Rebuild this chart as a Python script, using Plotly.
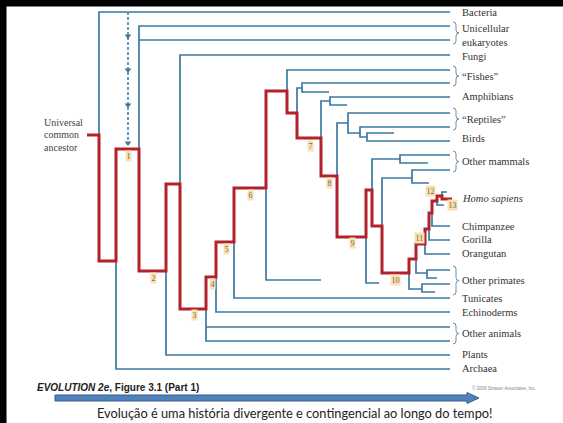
import plotly.graph_objects as go

W, H = 563, 423
FRAME = 6  # black slide frame thickness (top and left)

# ---------------- data ----------------
# leaf taxa and the row (vertical position) at which each is listed
taxa_labels = ["Bacteria", "Unicellular<br>eukaryotes", "Fungi", "\u201cFishes\u201d", "Amphibians",
               "\u201cReptiles\u201d", "Birds", "Other mammals", "<i>Homo sapiens</i>", "Chimpanzee",
               "Gorilla", "Orangutan", "Other primates", "Tunicates", "Echinoderms",
               "Other animals", "Plants", "Archaea"]
taxa_rows = [12, 35, 56, 76, 96, 119, 138, 161, 198, 226, 239, 253, 280, 298, 312, 333, 354, 368]

# grouped taxa (braces): first row, last row
brace_top = [22, 66, 108, 151, 266, 323]
brace_bottom = [44, 86, 130, 172, 295, 344]

# lineage leading to Homo sapiens (red), as node (x = time, y = row) sequence
red_x = [87, 99, 99, 116, 116, 139, 139, 166, 166, 180, 180, 206, 206, 216, 216, 234, 234, 266, 266,
         287, 287, 297, 297, 321, 321, 337, 337, 366, 366, 372, 372, 382, 382, 409, 409, 416, 416,
         425, 425, 429, 429, 432, 432, 437, 437, 442, 442, 452]
red_y = [135, 135, 261, 261, 149, 149, 271, 271, 184, 184, 309, 309, 277, 277, 242, 242, 188, 188, 91,
         91, 113, 113, 138, 138, 176, 176, 237, 237, 190, 190, 226, 226, 273, 273, 259, 259, 244,
         244, 229, 229, 213, 213, 201, 201, 196, 196, 199, 199]

# side branches (blue): each is a list of (time, row) points
branches = [
    [(99, 135), (99, 12), (450, 12)],                       # Bacteria
    [(139, 149), (139, 26), (450, 26)],                     # unicellular eukaryotes
    [(139, 40), (450, 40)],
    [(180, 184), (180, 55), (450, 55)],                     # Fungi
    [(287, 91), (287, 70), (450, 70)],                      # fishes
    [(297, 113), (297, 88), (302, 88)],
    [(450, 83), (302, 83), (302, 92), (329, 92)],
    [(321, 138), (321, 101), (330, 101)],                   # amphibians
    [(450, 97), (330, 97), (330, 105), (347, 105)],
    [(337, 176), (337, 123), (348, 123)],                   # reptiles / birds
    [(450, 113), (348, 113), (348, 133), (360, 133)],
    [(450, 127), (360, 127), (360, 137), (367, 137)],
    [(394, 133), (367, 133), (367, 141), (450, 141)],
    [(372, 190), (372, 159), (400, 159)],                   # other mammals
    [(450, 155), (400, 155), (400, 163), (428, 163)],
    [(382, 226), (382, 178), (412, 178)],
    [(450, 170), (412, 170), (412, 183), (429, 183)],
    [(266, 188), (266, 280), (321, 280)],                   # unlabelled chordate
    [(366, 237), (366, 283), (379, 283)],                   # unlabelled mammal
    [(409, 273), (409, 289), (422, 289)],                   # other primates
    [(450, 284), (422, 284), (422, 292), (435, 292)],
    [(416, 259), (416, 273), (427, 273)],
    [(450, 270), (427, 270), (427, 278), (437, 278)],
    [(425, 244), (425, 254), (450, 254)],                   # Orangutan
    [(429, 229), (429, 240), (450, 240)],                   # Gorilla
    [(432, 213), (432, 226), (450, 226)],                   # Chimpanzee
    [(437, 201), (437, 205), (444, 205)],                   # node 13 sister
    [(442, 196), (442, 192), (447, 192)],
    [(234, 242), (234, 298), (450, 298)],                   # Tunicates
    [(216, 277), (216, 312), (450, 312)],                   # Echinoderms
    [(206, 309), (206, 341), (450, 341)],                   # other animals
    [(206, 327), (450, 327)],
    [(166, 271), (166, 355), (450, 355)],                   # Plants
    [(116, 261), (116, 369), (450, 369)],                   # Archaea
]

# numbered nodes on the human lineage
node_numbers = ["1", "2", "3", "4", "5", "6", "7", "8", "9", "10", "11", "12", "13"]
node_x = [128, 153, 194, 212, 226, 250, 310, 329, 352, 395, 419, 430, 452]
node_y = [156, 278, 315, 284, 249, 195, 146, 183, 243, 280, 238, 191, 205]

# lateral gene transfer (dashed arrow) markers
lgt_x = 128
lgt_rows = [36, 70, 105, 143]

BLUE = "#3b78a3"
RED = "#b3222b"
SERIF = "Liberation Serif"

fig = go.Figure()

# black slide frame along the top and left edges (filled polygon)
fig.add_trace(go.Scatter(x=[0, W, W, FRAME, FRAME, 0, 0], y=[0, 0, FRAME, FRAME, H, H, 0],
                         mode="lines", fill="toself", fillcolor="black",
                         line=dict(color="black", width=1), hoverinfo="skip", showlegend=False))

bx, by = [], []
for b in branches:
    for (x, y) in b:
        bx.append(x)
        by.append(y)
    bx.append(None)
    by.append(None)
fig.add_trace(go.Scatter(x=bx, y=by, mode="lines", line=dict(color=BLUE, width=1.7),
                         hoverinfo="skip", showlegend=False))

# dashed transfer arrow
fig.add_trace(go.Scatter(x=[lgt_x, lgt_x], y=[12, 146], mode="lines",
                         line=dict(color=BLUE, width=1.5, dash="3px,2px"),
                         hoverinfo="skip", showlegend=False))
fig.add_trace(go.Scatter(x=[lgt_x] * len(lgt_rows), y=lgt_rows, mode="markers",
                         marker=dict(symbol="triangle-down", size=6, color=BLUE),
                         hoverinfo="skip", showlegend=False))

fig.add_trace(go.Scatter(x=red_x, y=red_y, mode="lines", line=dict(color=RED, width=3),
                         hoverinfo="skip", showlegend=False))

annotations = []
for t, r in zip(taxa_labels, taxa_rows):
    annotations.append(dict(x=460, y=r, text=t, showarrow=False, xanchor="left", yanchor="middle",
                            align="left", font=dict(family=SERIF, size=10.5, color="#333333")))

for n, x, y in zip(node_numbers, node_x, node_y):
    annotations.append(dict(x=x, y=y, text=n, showarrow=False, xanchor="center", yanchor="middle",
                            bgcolor="#f8e2b3", borderpad=0.5,
                            font=dict(family=SERIF, size=8, color="#7a6540")))

for i, line in enumerate(["Universal", "common", "ancestor"]):
    annotations.append(dict(x=42, y=122 + i * 12.5, text=line, showarrow=False, xanchor="left",
                            yanchor="middle", font=dict(family=SERIF, size=10, color="#444444")))

annotations.append(dict(x=35, y=387, text="<b><i>EVOLUTION 2e</i>, Figure 3.1 (Part 1)</b>",
                        showarrow=False, xanchor="left", yanchor="middle",
                        font=dict(family="Liberation Sans", size=10, color="#222222")))
annotations.append(dict(x=470, y=388, text="\u00a9 2009 Sinauer Associates, Inc.", showarrow=False,
                        xanchor="left", yanchor="middle",
                        font=dict(family="Liberation Sans", size=4.5, color="#888888")))
annotations.append(dict(x=295, y=413,
                        text="Evolu\u00e7\u00e3o \u00e9 uma hist\u00f3ria divergente e contingencial ao longo do tempo!",
                        showarrow=False, xanchor="center", yanchor="middle",
                        font=dict(family="Lato", size=12.8, color="#222222")))

shapes = []
# braces
for y0, y1 in zip(brace_top, brace_bottom):
    x0, w = 453, 6
    xm, xt, ym, d = x0 + w / 2, x0 + w, (y0 + y1) / 2, 3
    p = (f"M{x0},{y0} Q{xm},{y0} {xm},{y0 + d} L{xm},{ym - d} Q{xm},{ym} {xt},{ym} "
         f"Q{xm},{ym} {xm},{ym + d} L{xm},{y1 - d} Q{xm},{y1} {x0},{y1}")
    shapes.append(dict(type="path", path=p, line=dict(color="#6f8ea6", width=1), layer="above"))

# time arrow
shapes.append(dict(type="path",
                   path="M55,395 L467,395 L467,392.5 L479,398 L467,403.5 L467,401 L55,401 Z",
                   fillcolor="#4f81bd", line=dict(color="#385d8a", width=1), layer="above"))

fig.update_layout(
    width=W, height=H, margin=dict(l=0, r=0, t=0, b=0, pad=0),
    paper_bgcolor="white", plot_bgcolor="white",
    xaxis=dict(range=[0, W], visible=False, fixedrange=True),
    yaxis=dict(range=[H, 0], visible=False, fixedrange=True),
    annotations=annotations, shapes=shapes,
)

fig.write_html("out.html", config={"displayModeBar": False},
               post_script="document.body.style.margin='0';")
